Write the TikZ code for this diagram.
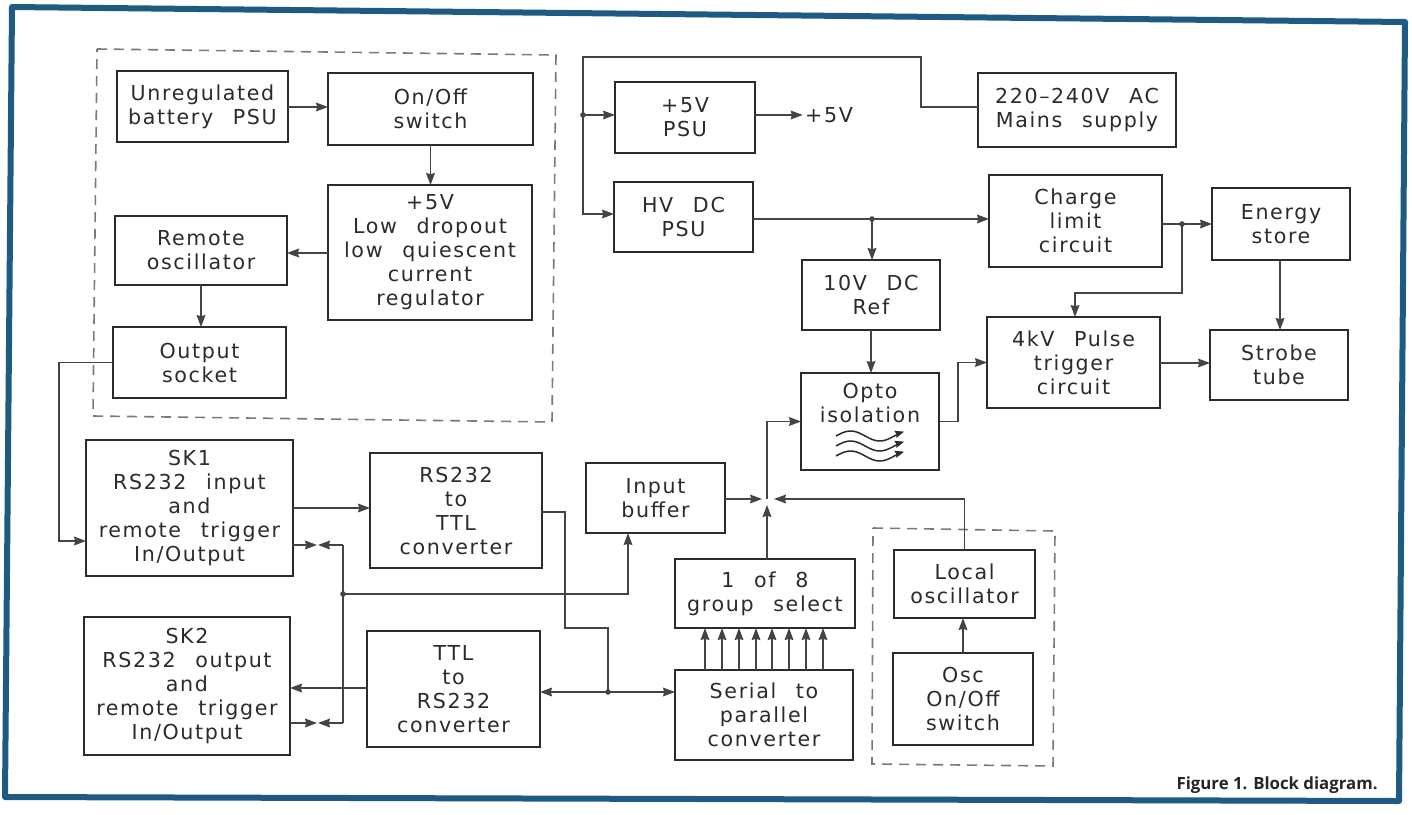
\documentclass[tikz,border=0pt]{standalone}
\usepackage{fontspec}
\setmainfont{DejaVu Sans}[LetterSpace=8,WordSpace=2.4]
\newfontfamily\capfont{Open Sans}
\usetikzlibrary{arrows.meta}
\definecolor{framecol}{HTML}{1E5A84}
\definecolor{inkc}{HTML}{2B2B2B}
\definecolor{wirec}{HTML}{444444}
\definecolor{dashc}{HTML}{7A7A7A}
\newcommand\lbl{\fontsize{10.3}{12}\selectfont}
\newcommand\blk[6]{%
  \pgfmathsetmacro\bw{(#4-#2)*0.5}\pgfmathsetmacro\bh{(#5-#3)*0.5}%
  \node[blk,minimum width=\bw pt,minimum height=\bh pt] (#1) at ({(#2+#4)/2},{(#3+#5)/2}) {#6};}
\tikzset{
  blk/.style={draw=inkc,line width=1.3pt,inner sep=0pt,outer sep=0pt,align=center,text=inkc,font=\lbl},
  wire/.style={draw=wirec,line width=0.6pt},
  arr/.style={wire,-{Stealth[length=6pt,width=4.4pt,inset=0.6pt]}},
  dsh/.style={draw=dashc,line width=0.8pt,dash pattern=on 5pt off 3.5pt},
  wavy/.style={draw=inkc,line width=0.75pt,-{Stealth[length=4.5pt,width=3.6pt,inset=0.6pt]}},
  txt/.style={text=inkc,font=\lbl,align=center,inner sep=1pt}
}
\begin{document}
\begin{tikzpicture}[x=0.5pt,y=-0.5pt]
\useasboundingbox (0,0) rectangle (1412,814);
\fill[white] (0,0) rectangle (1412,814);
% frame
\draw[framecol,line width=3pt,line join=round] (12,7) -- (1405,22) -- (1399,801) -- (5,797) -- cycle;
% dashed groups
\draw[dsh] (97,49) -- (556,55) -- (552,422) -- (93,416) -- cycle;
\draw[dsh] (873,528) -- (1055,531) -- (1053,766) -- (872,764) -- cycle;
% blocks
\blk{unreg}{117}{71}{288}{142}{Unregulated\\battery PSU}
\blk{onoff}{328}{73}{533}{145}{On/Off\\switch}
\blk{reg}{328}{185}{532}{320}{+5V\\Low dropout\\low quiescent\\current\\regulator}
\blk{remosc}{115}{216}{287}{285}{Remote\\oscillator}
\blk{outsock}{113}{327}{286}{398}{Output\\socket}
\blk{psu5}{615}{82}{755}{153}{+5V\\PSU}
\blk{hvdc}{614}{182}{753}{252}{HV DC\\PSU}
\blk{mains}{978}{73}{1176}{147}{220--240V AC\\Mains supply}
\blk{charge}{989}{175}{1162}{267}{Charge\\limit\\circuit}
\blk{energy}{1212}{188}{1350}{260}{Energy\\store}
\blk{ref10}{802}{260}{940}{330}{10V DC\\Ref}
\blk{pulse}{987}{317}{1160}{408}{4kV Pulse\\trigger\\circuit}
\blk{strobe}{1210}{330}{1348}{400}{Strobe\\tube}
\blk{opto}{801}{373}{939}{470}{}
\blk{sk1}{86}{440}{293}{576}{SK1\\RS232 input\\and\\remote trigger\\In/Output}
\blk{sk2}{84}{617}{290}{755}{SK2\\RS232 output\\and\\remote trigger\\In/Output}
\blk{r2t}{370}{453}{542}{568}{RS232\\to\\TTL\\converter}
\blk{t2r}{367}{631}{540}{747}{TTL\\to\\RS232\\converter}
\blk{inbuf}{586}{463}{725}{533}{Input\\buffer}
\blk{grp}{675}{559}{855}{628}{1 of 8\\group select}
\blk{s2p}{675}{670}{853}{760}{Serial to\\parallel\\converter}
\blk{locosc}{894}{550}{1035}{618}{Local\\oscillator}
\blk{osconoff}{893}{653}{1033}{745}{Osc\\On/Off\\switch}
% opto contents
\node[txt] (optotxt) at (870,403) {Opto\\isolation};
\foreach \yy in {436,446,456}
  \draw[wavy] plot[smooth,domain=0:1,samples=30] ({836+68*\x},{\yy-5*sin(420*\x)});
% free label
\node[txt] (v5) at (829,115) {+5V};
% junctions
\coordinate (J1) at (343,594);
\coordinate (J2) at (608,692);
\coordinate (J3) at (767,499);
\coordinate (J4) at (1182,224);
\coordinate (J5) at (872,219);
\coordinate (J6) at (583,115);
\coordinate (B1) at (343,545);
\coordinate (B2) at (343,723);
% connectors: battery section
\draw[arr] (unreg.east |- 0,107) -- (onoff.west |- 0,107);
\draw[arr] (onoff.south) -- (reg.north -| onoff.south);
\draw[arr] (reg.west |- 0,253) -- (remosc.east |- 0,253);
\draw[arr] (remosc.south) -- (outsock.north -| remosc.south);
\draw[arr] (outsock.west) -| (59,541) -- (sk1.west |- 0,541);
% mains / PSU
\draw[arr] (mains.west |- 0,107) -| (921,57) -| (583,214) -- (hvdc.west |- 0,214);
\draw[arr] (J6) -- (psu5.west |- J6);
\draw[arr] (psu5.east |- J6) -- (v5.west);
\draw[wire] (hvdc.east |- J5) -- (J5);
\draw[arr] (J5) -- (charge.west |- J5);
\draw[arr] (J5) -- (ref10.north -| J5);
\draw[arr] (ref10.south) -- (opto.north -| ref10.south);
\draw[wire] (charge.east |- J4) -- (J4);
\draw[arr] (J4) -- (energy.west |- J4);
\draw[arr] (J4) |- (1075,293) -- (pulse.north -| 1075,0);
\draw[arr] (energy.south -| 1280,0) -- (strobe.north -| 1280,0);
\draw[arr] (pulse.east |- 0,363) -- (strobe.west |- 0,363);
\draw[arr] (opto.east) -- ++(19,0) |- (pulse.west);
% serial side
\draw[arr] (sk1.east |- 0,508) -- (r2t.west |- 0,508);
\draw[arr] (sk1.east |- B1) -- ++(24,0);
\draw[arr] (B1) -- ++(-25,0);
\draw[wire] (B1) -- (B2);
\draw[arr] (sk2.east |- B2) -- ++(27,0);
\draw[arr] (B2) -- ++(-25,0);
\draw[arr] (J1) -| (inbuf.south -| 628,0);
\draw[arr] (t2r.west |- 0,688) -- (sk2.east |- 0,688);
\draw[wire] (r2t.east |- 0,512) -- (565,512) -- (565,628) -| (J2);
\draw[arr] (J2) -- (t2r.east |- J2);
\draw[arr] (J2) -- (s2p.west |- J2);
\foreach \xx in {705,722,739,756,772,789,806,823}
  \draw[arr] (s2p.north -| \xx,0) -- (grp.south -| \xx,0);
\draw[arr,shorten >=2.5pt] (inbuf.east |- J3) -- (J3);
\draw[arr,shorten >=3pt] (grp.north -| J3) -- (J3);
\draw[arr,shorten >=3.5pt] (locosc.north) |- (J3);
\draw[arr] (J3) |- (opto.west);
\draw[arr] (osconoff.north) -- (locosc.south -| osconoff.north);
% dots
\foreach \p in {J1,J2,J4,J5,J6} \fill[wirec] (\p) circle (1.4pt);
% caption
\node[anchor=east,inner sep=0pt,text=black!85,font=\capfont\bfseries\fontsize{8.4}{10}\selectfont] (cap) at (1378,785) {Figure 1. Block diagram.};
\end{tikzpicture}
\end{document}
